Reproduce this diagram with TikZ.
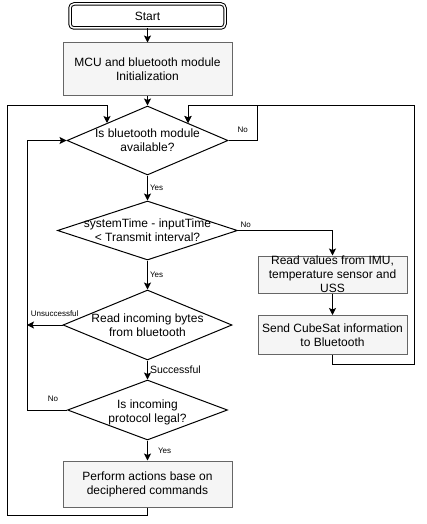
\documentclass[tikz,border=0pt]{standalone}
\usepackage{fontspec}
\setmainfont{Liberation Sans}
\usetikzlibrary{shapes.geometric,arrows.meta}
\definecolor{boxfill}{HTML}{F5F5F5}
\definecolor{boxline}{HTML}{666666}
\begin{document}
\begin{tikzpicture}[x=1pt,y=-1pt,line width=1pt,
    >={Stealth[length=7pt,width=7pt,inset=1.5pt]},
    startbox/.style={draw,rounded corners=4pt,double,double distance=1.5pt,minimum width=155pt,minimum height=24pt,font=\fontsize{12}{14}\selectfont},
    proc/.style={draw=boxline,fill=boxfill,align=center,inner sep=0pt,font=\fontsize{12}{14}\selectfont},
    dec/.style={draw,diamond,inner sep=0pt},
    txt/.style={align=center,inner sep=0pt,font=\fontsize{12}{14}\selectfont},
    lbl/.style={inner sep=2pt,font=\fontsize{8}{9}\selectfont}]
    \useasboundingbox (0,0) rectangle (426,524);
    % main column
    \node[startbox] (start) at (147.5,16) {Start};
    \node[proc,minimum width=169pt,minimum height=53pt] (init) at (147.5,69.5) {MCU and bluetooth module\\Initialization};
    \node[dec,minimum width=161pt,minimum height=69pt] (avail) at (147.5,140.5) {};
    \node[txt] (availtxt) at (avail) {Is bluetooth module\\available?};
    \node[dec,minimum width=180pt,minimum height=59pt] (interval) at (147.5,230.5) {};
    \node[txt] (intervaltxt) at (interval) {systemTime - inputTime\\\textless{} Transmit interval?};
    \node[dec,minimum width=169pt,minimum height=70pt] (readbytes) at (147.5,325) {};
    \node[txt] (readbytestxt) at (readbytes) {Read incoming bytes\\from bluetooth};
    \node[dec,minimum width=160pt,minimum height=60pt] (legal) at (147.5,410) {};
    \node[txt] (legaltxt) at ([yshift=-2pt]legal.center) {Is incoming\\protocol legal?};
    \node[proc,minimum width=169pt,minimum height=46pt] (perform) at (147.5,484) {Perform actions base on\\deciphered commands};
    % right column
    \node[proc,minimum width=149pt,minimum height=37pt] (readsens) at (332.5,274.5) {Read values from IMU,\\temperature sensor and\\USS};
    \node[proc,minimum width=149pt,minimum height=39pt] (send) at (332.5,335) {Send CubeSat information\\to Bluetooth};
    % loop corners
    \coordinate (ltop) at (7,106);
    \coordinate (lbot) at (7,515);
    \coordinate (lin) at (27,410);
    \coordinate (rno) at (257,106);
    \coordinate (rtop) at (414,106);
    \coordinate (rbot) at (414,364);

    \draw[->] (start) -- (init);
    \draw[->] (init) -- (avail);
    \draw[->] (avail) -- node[lbl,right] {Yes} (interval);
    \draw[->] (interval) -- node[lbl,right] {Yes} (readbytes);
    \draw[->] (readbytes) -- node[lbl,right,font=\fontsize{10.5}{12}\selectfont] {Successful} (legal);
    \draw[->] (legal) -- node[lbl,right,xshift=8pt] {Yes} (perform);
    \draw[->] (readsens) -- (send);
    \draw[->] (interval.east) -| node[lbl,above right,pos=0] {No} (readsens.north);
    \draw[->] (avail.east) -- node[lbl,above,yshift=5pt] {No} (avail.east -| rno) -- (rno) -| (avail.north east);
    \draw[->] (send.south) |- (rbot) -- (rtop) -| (avail.north east);
    \draw[->] (legal.west) -- node[lbl,above,pos=0.35,yshift=6pt] {No} (lin) |- (avail.west);
    \draw[->] (readbytes.west) -- node[lbl,above,pos=0.22,yshift=6pt] {Unsuccessful} (readbytes.west -| lin);
    \draw[->] (perform.south) |- (lbot) -- (ltop) -| (avail.north west);
\end{tikzpicture}
\end{document}
